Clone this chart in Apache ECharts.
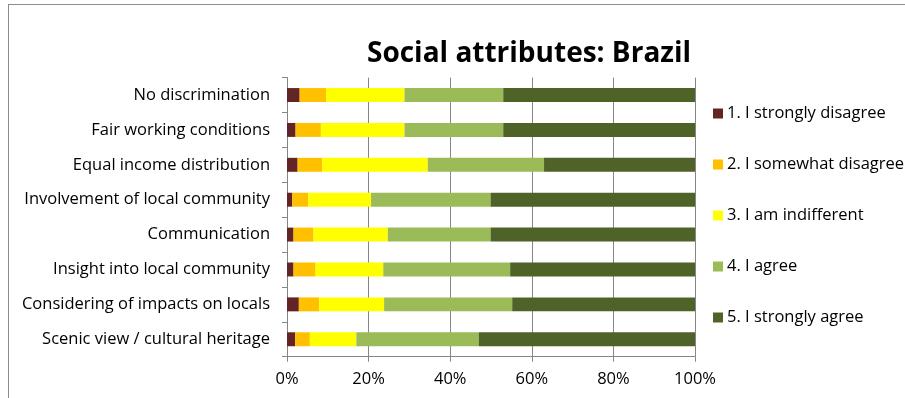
<!DOCTYPE html>
<html><head><meta charset="utf-8">
<script src="https://cdn.jsdelivr.net/npm/echarts@6/dist/echarts.min.js"></script>
<style>html,body{margin:0;padding:0;background:#fff}#c{width:905px;height:398px}
#frame{position:absolute;left:8px;top:4px;width:905px;height:400px;border-left:1px solid #8c8c8c;border-top:1px solid #8c8c8c;pointer-events:none}</style>
</head><body><div id="c"></div><div id="frame"></div>
<script>
const categories = ["No discrimination","Fair working conditions","Equal income distribution","Involvement of local community","Communication","Insight into local community","Considering of impacts on locals","Scenic view / cultural heritage"];
const seriesNames = ["1. I strongly disagree","2. I somewhat disagree","3. I am indifferent","4. I agree","5. I strongly agree"];
const s1 = [3.1, 2.1, 2.6, 1.3, 1.6, 1.6, 2.9, 2.0];
const s2 = [6.5, 6.2, 6.0, 3.9, 4.9, 5.4, 5.0, 3.6];
const s3 = [19.2, 20.5, 25.9, 15.4, 18.2, 16.6, 15.9, 11.4];
const s4 = [24.2, 24.2, 28.5, 29.3, 25.2, 31.1, 31.4, 30.0];
const s5 = [47.0, 47.0, 37.0, 50.1, 50.1, 45.3, 44.8, 53.0];
const colors = ["#632523","#FFC000","#FFFF00","#9BBB59","#4F6228"];
const tickLabels = ["0%","20%","40%","60%","80%","100%"];
const allSeries = [s1,s2,s3,s4,s5];
const font = "Open Sans";
const chart = echarts.init(document.getElementById('c'));
chart.setOption({
  animation:false,
  title:{text:"Social attributes: Brazil",left:524,top:31,textAlign:'center',textStyle:{fontFamily:font,fontSize:28,fontWeight:'bold',color:'#000',lineHeight:36}},
  legend:{orient:'vertical',left:708,top:98.5,itemGap:31,itemWidth:10,itemHeight:10,icon:'rect',
    textStyle:{fontFamily:font,fontSize:16.5,lineHeight:20,color:'#000',padding:[0,0,0,-1]},data:seriesNames},
  grid:{left:287,right:210,top:77.6,bottom:41.3,containLabel:false},
  xAxis:{type:'value',min:0,max:100,interval:20,
    axisLabel:{formatter:(v)=>tickLabels[Math.round(v/20)],fontFamily:font,fontSize:16.5,color:'#000',margin:14},
    axisLine:{show:true,lineStyle:{color:'#868686'}},
    axisTick:{show:true,length:5,lineStyle:{color:'#868686'}},
    splitLine:{show:true,lineStyle:{color:'#868686'}}},
  yAxis:{type:'category',inverse:true,data:categories,
    axisLabel:{fontFamily:font,fontSize:16.5,color:'#000',margin:17},
    axisLine:{show:true,lineStyle:{color:'#868686'}},
    axisTick:{show:true,length:5,lineStyle:{color:'#868686'}}},
  series: allSeries.map((d,i)=>({name:seriesNames[i],type:'bar',stack:'t',data:d,barWidth:'40%',
    itemStyle:{color:colors[i]}}))
});
</script></body></html>
